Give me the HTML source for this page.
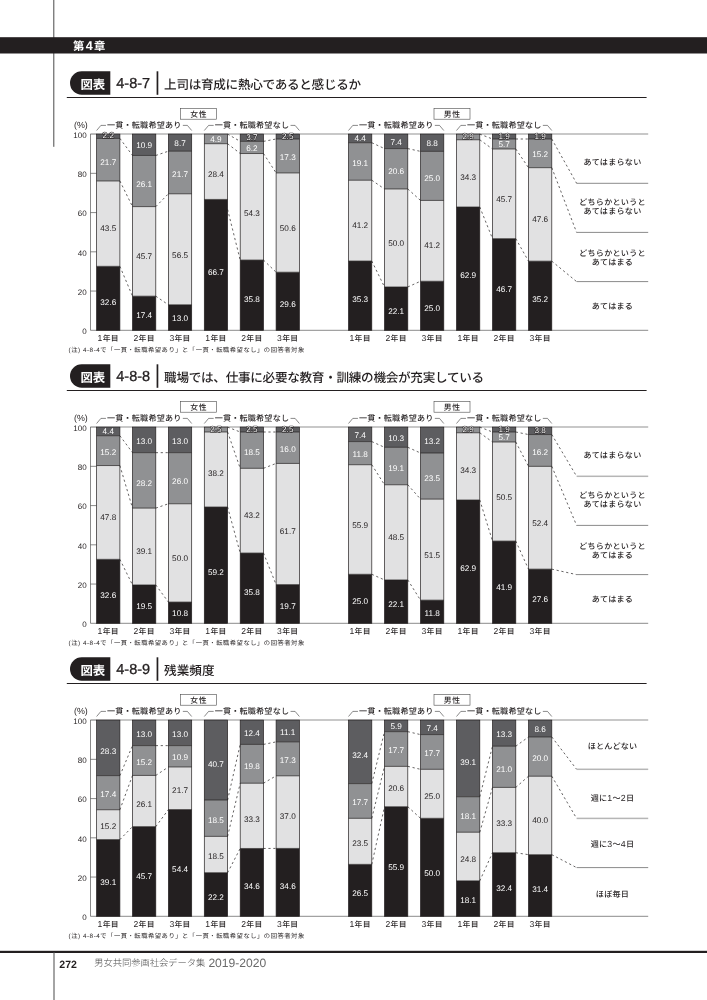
<!DOCTYPE html>
<html lang="ja">
<head>
<meta charset="utf-8">
<title>第4章 図表 4-8-7 / 4-8-8 / 4-8-9</title>
<style>
html,body{margin:0;padding:0;background:#fff;}
body{width:707px;height:1000px;overflow:hidden;position:relative;font-family:"Liberation Sans", "Noto Sans CJK JP", sans-serif;}
svg{position:absolute;left:0;top:0;display:block;}
text{font-family:"Liberation Sans", "Noto Sans CJK JP", sans-serif;fill:#231f20;text-rendering:geometricPrecision;}
.chap{font-size:11.3px;font-weight:700;fill:#fff;}
.chn{font-size:12.6px;}
.badge{font-size:12.4px;font-weight:700;fill:#fff;text-anchor:middle;}
.num{font-size:14.5px;stroke:#231f20;stroke-width:0.3px;}
.ttl{font-size:12.6px;font-weight:500;}
.gen{font-size:7.8px;font-weight:500;text-anchor:middle;letter-spacing:0.6px;}
.grp{font-size:8.1px;font-weight:500;}
.ax{font-size:8px;text-anchor:end;}
.pct{font-size:8.9px;text-anchor:end;}
.xl{font-size:7.8px;font-weight:500;text-anchor:middle;letter-spacing:0.3px;}
.xd{font-size:8.6px;font-weight:400;}
.ld{font-size:8.8px;}
.leg{font-size:8.1px;font-weight:500;text-anchor:middle;letter-spacing:0.25px;}
.vw{font-size:8.2px;text-anchor:middle;fill:#fff;}
.vd{font-size:8.2px;text-anchor:middle;}
.vo{font-size:8.2px;text-anchor:middle;fill:#fff;stroke:#231f20;stroke-width:1.1px;paint-order:stroke fill;stroke-linejoin:round;}
.note{font-size:6.3px;}
.thin{fill:none;stroke:#3a3a3a;stroke-width:0.6;}
.ol{fill:none;stroke:#231f20;stroke-width:0.7;}
.brk{fill:none;stroke:#3a3a3a;stroke-width:0.6;}
.dash{fill:none;stroke:#231f20;stroke-width:0.7;stroke-dasharray:2.2 2.7;}
.pg{font-size:10.6px;font-weight:700;}
.bk{font-size:9.3px;font-weight:300;fill:#4a4a4a;}
.bk2{font-size:12.1px;font-weight:400;fill:#6a6a6a;}
</style>
</head>
<body>
<svg width="707" height="1000" viewBox="0 0 707 1000">
<rect x="0" y="0" width="707" height="1000" fill="#fff"/>
<rect x="53.3" y="0" width="1" height="146.8" fill="#4a4a4a"/>
<rect x="0" y="37.2" width="707" height="16.3" fill="#231f20"/>
<text class="chap" x="73" y="49.7" textLength="32.4" lengthAdjust="spacing">第<tspan class="chn">4</tspan>章</text>
<g class="chart">
<path d="M81.75 71.3H110.3V94.8H81.75A11.75 11.75 0 0 1 81.75 71.3Z" fill="#231f20"/>
<text class="badge" x="92.8" y="88.9">図表</text>
<text class="num" x="116.3" y="88.35">4-8-7</text>
<rect x="156.6" y="71.3" width="1.7" height="23.5" fill="#231f20"/>
<text class="ttl" x="164.1" y="88.8" textLength="197" lengthAdjust="spacing">上司は育成に熱心であると感じるか</text>
<rect x="66.8" y="97" width="579.8" height="1" fill="#231f20"/>
<rect x="180.5" y="108.4" width="36" height="10.8" fill="#fff" stroke="#4a4a4a" stroke-width="0.6"/>
<text class="gen" x="198.7" y="117.2">女性</text>
<rect x="434" y="108.4" width="36" height="10.8" fill="#fff" stroke="#4a4a4a" stroke-width="0.6"/>
<text class="gen" x="452.2" y="117.2">男性</text>
<path class="brk" d="M96.6 130.5L100.9 125.4H105.95"/>
<path class="brk" d="M191.7 130.5L187.4 125.4H182.85"/>
<text class="grp" x="106.95" y="128.4" textLength="74.4" lengthAdjust="spacing">一貫・転職希望あり</text>
<path class="brk" d="M204.3 130.5L208.6 125.4H213.65"/>
<path class="brk" d="M299.4 130.5L295.1 125.4H290.55"/>
<text class="grp" x="214.65" y="128.4" textLength="74.4" lengthAdjust="spacing">一貫・転職希望なし</text>
<path class="brk" d="M348.5 130.5L352.8 125.4H357.95"/>
<path class="brk" d="M443.8 130.5L439.5 125.4H434.85"/>
<text class="grp" x="358.95" y="128.4" textLength="74.4" lengthAdjust="spacing">一貫・転職希望あり</text>
<path class="brk" d="M456.5 130.5L460.8 125.4H465.95"/>
<path class="brk" d="M551.8 130.5L547.5 125.4H542.85"/>
<text class="grp" x="466.95" y="128.4" textLength="74.4" lengthAdjust="spacing">一貫・転職希望なし</text>
<text class="pct" x="87.8" y="128.3">(%)</text>
<text class="ax" x="86.6" y="137.8">100</text>
<path class="thin" d="M90.5 134.1H96.6"/>
<text class="ax" x="86.6" y="177.04">80</text>
<path class="thin" d="M90.5 173.34H96.6"/>
<text class="ax" x="86.6" y="216.28">60</text>
<path class="thin" d="M90.5 212.58H96.6"/>
<text class="ax" x="86.6" y="255.52">40</text>
<path class="thin" d="M90.5 251.82H96.6"/>
<text class="ax" x="86.6" y="294.76">20</text>
<path class="thin" d="M90.5 291.06H96.6"/>
<text class="ax" x="86.6" y="333.6">0</text>
<rect x="90.5" y="133.25" width="557.7" height="1.5" fill="#b6b6b6"/>
<path class="thin" d="M90.5 134.1V330.3H648.2"/>
<rect x="96.6" y="266.34" width="23.3" height="63.96" fill="#231f20"/>
<rect x="96.6" y="180.99" width="23.3" height="85.35" fill="#e1e1e2"/>
<rect x="96.6" y="138.42" width="23.3" height="42.58" fill="#909193"/>
<rect x="96.6" y="134.1" width="23.3" height="4.32" fill="#5d5d60"/>
<rect class="ol" x="96.6" y="134.1" width="23.3" height="196.2"/>
<path class="ol" d="M96.6 266.34H119.9"/>
<path class="ol" d="M96.6 180.99H119.9"/>
<path class="ol" d="M96.6 138.42H119.9"/>
<rect x="132.5" y="296.2" width="23.3" height="34.1" fill="#231f20"/>
<rect x="132.5" y="206.62" width="23.3" height="89.57" fill="#e1e1e2"/>
<rect x="132.5" y="155.46" width="23.3" height="51.16" fill="#909193"/>
<rect x="132.5" y="134.1" width="23.3" height="21.36" fill="#5d5d60"/>
<rect class="ol" x="132.5" y="134.1" width="23.3" height="196.2"/>
<path class="ol" d="M132.5 296.2H155.8"/>
<path class="ol" d="M132.5 206.62H155.8"/>
<path class="ol" d="M132.5 155.46H155.8"/>
<rect x="168.4" y="304.77" width="23.3" height="25.53" fill="#231f20"/>
<rect x="168.4" y="193.8" width="23.3" height="110.96" fill="#e1e1e2"/>
<rect x="168.4" y="151.19" width="23.3" height="42.62" fill="#909193"/>
<rect x="168.4" y="134.1" width="23.3" height="17.09" fill="#5d5d60"/>
<rect class="ol" x="168.4" y="134.1" width="23.3" height="196.2"/>
<path class="ol" d="M168.4 304.77H191.7"/>
<path class="ol" d="M168.4 193.8H191.7"/>
<path class="ol" d="M168.4 151.19H191.7"/>
<rect x="204.3" y="199.43" width="23.3" height="130.87" fill="#231f20"/>
<rect x="204.3" y="143.71" width="23.3" height="55.72" fill="#e1e1e2"/>
<rect x="204.3" y="134.1" width="23.3" height="9.61" fill="#909193"/>
<rect class="ol" x="204.3" y="134.1" width="23.3" height="196.2"/>
<path class="ol" d="M204.3 199.43H227.6"/>
<path class="ol" d="M204.3 143.71H227.6"/>
<rect x="240.2" y="260.06" width="23.3" height="70.24" fill="#231f20"/>
<rect x="240.2" y="153.52" width="23.3" height="106.54" fill="#e1e1e2"/>
<rect x="240.2" y="141.36" width="23.3" height="12.16" fill="#909193"/>
<rect x="240.2" y="134.1" width="23.3" height="7.26" fill="#5d5d60"/>
<rect class="ol" x="240.2" y="134.1" width="23.3" height="196.2"/>
<path class="ol" d="M240.2 260.06H263.5"/>
<path class="ol" d="M240.2 153.52H263.5"/>
<path class="ol" d="M240.2 141.36H263.5"/>
<rect x="276.1" y="272.22" width="23.3" height="58.08" fill="#231f20"/>
<rect x="276.1" y="172.95" width="23.3" height="99.28" fill="#e1e1e2"/>
<rect x="276.1" y="139" width="23.3" height="33.94" fill="#909193"/>
<rect x="276.1" y="134.1" width="23.3" height="4.91" fill="#5d5d60"/>
<rect class="ol" x="276.1" y="134.1" width="23.3" height="196.2"/>
<path class="ol" d="M276.1 272.22H299.4"/>
<path class="ol" d="M276.1 172.95H299.4"/>
<path class="ol" d="M276.1 139H299.4"/>
<rect x="348.5" y="261.04" width="23.3" height="69.26" fill="#231f20"/>
<rect x="348.5" y="180.21" width="23.3" height="80.83" fill="#e1e1e2"/>
<rect x="348.5" y="142.73" width="23.3" height="37.47" fill="#909193"/>
<rect x="348.5" y="134.1" width="23.3" height="8.63" fill="#5d5d60"/>
<rect class="ol" x="348.5" y="134.1" width="23.3" height="196.2"/>
<path class="ol" d="M348.5 261.04H371.8"/>
<path class="ol" d="M348.5 180.21H371.8"/>
<path class="ol" d="M348.5 142.73H371.8"/>
<rect x="384.5" y="286.98" width="23.3" height="43.32" fill="#231f20"/>
<rect x="384.5" y="188.98" width="23.3" height="98" fill="#e1e1e2"/>
<rect x="384.5" y="148.6" width="23.3" height="40.38" fill="#909193"/>
<rect x="384.5" y="134.1" width="23.3" height="14.5" fill="#5d5d60"/>
<rect class="ol" x="384.5" y="134.1" width="23.3" height="196.2"/>
<path class="ol" d="M384.5 286.98H407.8"/>
<path class="ol" d="M384.5 188.98H407.8"/>
<path class="ol" d="M384.5 148.6H407.8"/>
<rect x="420.5" y="281.25" width="23.3" height="49.05" fill="#231f20"/>
<rect x="420.5" y="200.42" width="23.3" height="80.83" fill="#e1e1e2"/>
<rect x="420.5" y="151.37" width="23.3" height="49.05" fill="#909193"/>
<rect x="420.5" y="134.1" width="23.3" height="17.27" fill="#5d5d60"/>
<rect class="ol" x="420.5" y="134.1" width="23.3" height="196.2"/>
<path class="ol" d="M420.5 281.25H443.8"/>
<path class="ol" d="M420.5 200.42H443.8"/>
<path class="ol" d="M420.5 151.37H443.8"/>
<rect x="456.5" y="207.01" width="23.3" height="123.29" fill="#231f20"/>
<rect x="456.5" y="139.78" width="23.3" height="67.23" fill="#e1e1e2"/>
<rect x="456.5" y="134.1" width="23.3" height="5.68" fill="#909193"/>
<rect class="ol" x="456.5" y="134.1" width="23.3" height="196.2"/>
<path class="ol" d="M456.5 207.01H479.8"/>
<path class="ol" d="M456.5 139.78H479.8"/>
<rect x="492.5" y="238.67" width="23.3" height="91.63" fill="#231f20"/>
<rect x="492.5" y="149.01" width="23.3" height="89.66" fill="#e1e1e2"/>
<rect x="492.5" y="139" width="23.3" height="10.01" fill="#909193"/>
<rect x="492.5" y="134.1" width="23.3" height="4.91" fill="#5d5d60"/>
<rect class="ol" x="492.5" y="134.1" width="23.3" height="196.2"/>
<path class="ol" d="M492.5 238.67H515.8"/>
<path class="ol" d="M492.5 149.01H515.8"/>
<path class="ol" d="M492.5 139H515.8"/>
<rect x="528.5" y="261.17" width="23.3" height="69.13" fill="#231f20"/>
<rect x="528.5" y="167.68" width="23.3" height="93.48" fill="#e1e1e2"/>
<rect x="528.5" y="139.01" width="23.3" height="28.67" fill="#909193"/>
<rect x="528.5" y="134.1" width="23.3" height="4.91" fill="#5d5d60"/>
<rect class="ol" x="528.5" y="134.1" width="23.3" height="196.2"/>
<path class="ol" d="M528.5 261.17H551.8"/>
<path class="ol" d="M528.5 167.68H551.8"/>
<path class="ol" d="M528.5 139.01H551.8"/>
<path class="dash" d="M119.9 266.34L132.5 296.2"/>
<path class="dash" d="M119.9 180.99L132.5 206.62"/>
<path class="dash" d="M119.9 138.42L132.5 155.46"/>
<path class="dash" d="M155.8 296.2L168.4 304.77"/>
<path class="dash" d="M155.8 206.62L168.4 193.8"/>
<path class="dash" d="M155.8 155.46L168.4 151.19"/>
<path class="dash" d="M227.6 209.43L240.2 260.06"/>
<path class="dash" d="M227.6 143.71L240.2 153.52"/>
<path class="dash" d="M227.6 134.1L240.2 141.36"/>
<path class="dash" d="M263.5 260.06L276.1 272.22"/>
<path class="dash" d="M263.5 153.52L276.1 172.95"/>
<path class="dash" d="M263.5 141.36L276.1 139"/>
<path class="dash" d="M371.8 261.04L384.5 286.98"/>
<path class="dash" d="M371.8 180.21L384.5 188.98"/>
<path class="dash" d="M371.8 142.73L384.5 148.6"/>
<path class="dash" d="M407.8 286.98L420.5 281.25"/>
<path class="dash" d="M407.8 188.98L420.5 200.42"/>
<path class="dash" d="M407.8 148.6L420.5 151.37"/>
<path class="dash" d="M479.8 207.01L492.5 238.67"/>
<path class="dash" d="M479.8 139.78L492.5 149.01"/>
<path class="dash" d="M479.8 134.1L492.5 139"/>
<path class="dash" d="M515.8 238.67L528.5 261.17"/>
<path class="dash" d="M515.8 149.01L528.5 167.68"/>
<path class="dash" d="M515.8 139L528.5 139.01"/>
<path class="dash" d="M551.8 139.01L576.6 183.3"/>
<path class="thin" d="M576.6 183.3H648.2"/>
<path class="dash" d="M551.8 167.68L576.6 232.4"/>
<path class="thin" d="M576.6 232.4H648.2"/>
<path class="dash" d="M551.8 261.17L576.6 281.6"/>
<path class="thin" d="M576.6 281.6H648.2"/>
<text class="leg" x="612.5" y="164.6">あてはまらない</text>
<text class="leg" x="612.5" y="205.4">どちらかというと</text>
<text class="leg" x="612.5" y="214">あてはまらない</text>
<text class="leg" x="612.5" y="256.4">どちらかというと</text>
<text class="leg" x="612.5" y="265.4">あてはまる</text>
<text class="leg" x="612.5" y="308.5">あてはまる</text>
<text class="vw" x="108.25" y="304.56">32.6</text>
<text class="vd" x="108.25" y="231.19">43.5</text>
<text class="vw" x="108.25" y="164.66">21.7</text>
<text class="vo" x="108.25" y="138.46">2.2</text>
<text class="vw" x="144.15" y="317.69">17.4</text>
<text class="vd" x="144.15" y="259.18">45.7</text>
<text class="vw" x="144.15" y="186.51">26.1</text>
<text class="vw" x="144.15" y="148.46">10.9</text>
<text class="vw" x="180.05" y="321.47">13.0</text>
<text class="vd" x="180.05" y="258.34">56.5</text>
<text class="vw" x="180.05" y="177.45">21.7</text>
<text class="vw" x="180.05" y="146.07">8.7</text>
<text class="vw" x="215.95" y="275.12">66.7</text>
<text class="vd" x="215.95" y="177.32">28.4</text>
<text class="vw" x="215.95" y="141.91">4.9</text>
<text class="vw" x="251.85" y="301.79">35.8</text>
<text class="vd" x="251.85" y="215.58">54.3</text>
<text class="vw" x="251.85" y="150.57">6.2</text>
<text class="vo" x="251.85" y="139.93">3.7</text>
<text class="vw" x="287.75" y="307.15">29.6</text>
<text class="vd" x="287.75" y="230.94">50.6</text>
<text class="vw" x="287.75" y="160.41">17.3</text>
<text class="vo" x="287.75" y="138.75">2.5</text>
<text class="vw" x="360.15" y="302.23">35.3</text>
<text class="vd" x="360.15" y="227.87">41.2</text>
<text class="vw" x="360.15" y="166.12">19.1</text>
<text class="vw" x="360.15" y="141.42">4.4</text>
<text class="vw" x="396.15" y="313.64">22.1</text>
<text class="vd" x="396.15" y="246.26">50.0</text>
<text class="vw" x="396.15" y="173.62">20.6</text>
<text class="vw" x="396.15" y="144.62">7.4</text>
<text class="vw" x="432.15" y="311.12">25.0</text>
<text class="vd" x="432.15" y="248.08">41.2</text>
<text class="vw" x="432.15" y="181.23">25.0</text>
<text class="vw" x="432.15" y="146.17">8.8</text>
<text class="vw" x="468.15" y="278.45">62.9</text>
<text class="vd" x="468.15" y="179.83">34.3</text>
<text class="vo" x="468.15" y="139.14">2.9</text>
<text class="vw" x="504.15" y="292.38">46.7</text>
<text class="vd" x="504.15" y="201.62">45.7</text>
<text class="vw" x="504.15" y="147.01">5.7</text>
<text class="vo" x="504.15" y="138.7">1.9</text>
<text class="vw" x="540.15" y="302.28">35.2</text>
<text class="vd" x="540.15" y="222.44">47.6</text>
<text class="vw" x="540.15" y="157.47">15.2</text>
<text class="vo" x="540.15" y="138.7">1.9</text>
<text class="xl" x="108.25" y="340.5"><tspan class="xd">1</tspan>年目</text>
<text class="xl" x="144.15" y="340.5"><tspan class="xd">2</tspan>年目</text>
<text class="xl" x="180.05" y="340.5"><tspan class="xd">3</tspan>年目</text>
<text class="xl" x="215.95" y="340.5"><tspan class="xd">1</tspan>年目</text>
<text class="xl" x="251.85" y="340.5"><tspan class="xd">2</tspan>年目</text>
<text class="xl" x="287.75" y="340.5"><tspan class="xd">3</tspan>年目</text>
<text class="xl" x="360.15" y="340.5"><tspan class="xd">1</tspan>年目</text>
<text class="xl" x="396.15" y="340.5"><tspan class="xd">2</tspan>年目</text>
<text class="xl" x="432.15" y="340.5"><tspan class="xd">3</tspan>年目</text>
<text class="xl" x="468.15" y="340.5"><tspan class="xd">1</tspan>年目</text>
<text class="xl" x="504.15" y="340.5"><tspan class="xd">2</tspan>年目</text>
<text class="xl" x="540.15" y="340.5"><tspan class="xd">3</tspan>年目</text>
<text class="note" x="68.6" y="351.9" textLength="235.6" lengthAdjust="spacing">(注) 4-8-4で「一貫・転職希望あり」と「一貫・転職希望なし」の回答者対象</text>
</g>
<g class="chart">
<path d="M81.75 364.3H110.3V387.8H81.75A11.75 11.75 0 0 1 81.75 364.3Z" fill="#231f20"/>
<text class="badge" x="92.8" y="381.9">図表</text>
<text class="num" x="116.3" y="381.35">4-8-8</text>
<rect x="156.6" y="364.3" width="1.7" height="23.5" fill="#231f20"/>
<text class="ttl" x="164.1" y="381.8" textLength="320" lengthAdjust="spacing">職場では、仕事に必要な教育・訓練の機会が充実している</text>
<rect x="66.8" y="390" width="579.8" height="1" fill="#231f20"/>
<rect x="180.5" y="401.4" width="36" height="10.8" fill="#fff" stroke="#4a4a4a" stroke-width="0.6"/>
<text class="gen" x="198.7" y="410.2">女性</text>
<rect x="434" y="401.4" width="36" height="10.8" fill="#fff" stroke="#4a4a4a" stroke-width="0.6"/>
<text class="gen" x="452.2" y="410.2">男性</text>
<path class="brk" d="M96.6 423.5L100.9 418.4H105.95"/>
<path class="brk" d="M191.7 423.5L187.4 418.4H182.85"/>
<text class="grp" x="106.95" y="421.4" textLength="74.4" lengthAdjust="spacing">一貫・転職希望あり</text>
<path class="brk" d="M204.3 423.5L208.6 418.4H213.65"/>
<path class="brk" d="M299.4 423.5L295.1 418.4H290.55"/>
<text class="grp" x="214.65" y="421.4" textLength="74.4" lengthAdjust="spacing">一貫・転職希望なし</text>
<path class="brk" d="M348.5 423.5L352.8 418.4H357.95"/>
<path class="brk" d="M443.8 423.5L439.5 418.4H434.85"/>
<text class="grp" x="358.95" y="421.4" textLength="74.4" lengthAdjust="spacing">一貫・転職希望あり</text>
<path class="brk" d="M456.5 423.5L460.8 418.4H465.95"/>
<path class="brk" d="M551.8 423.5L547.5 418.4H542.85"/>
<text class="grp" x="466.95" y="421.4" textLength="74.4" lengthAdjust="spacing">一貫・転職希望なし</text>
<text class="pct" x="87.8" y="421.3">(%)</text>
<text class="ax" x="86.6" y="430.8">100</text>
<path class="thin" d="M90.5 427.1H96.6"/>
<text class="ax" x="86.6" y="470.04">80</text>
<path class="thin" d="M90.5 466.34H96.6"/>
<text class="ax" x="86.6" y="509.28">60</text>
<path class="thin" d="M90.5 505.58H96.6"/>
<text class="ax" x="86.6" y="548.52">40</text>
<path class="thin" d="M90.5 544.82H96.6"/>
<text class="ax" x="86.6" y="587.76">20</text>
<path class="thin" d="M90.5 584.06H96.6"/>
<text class="ax" x="86.6" y="626.6">0</text>
<rect x="90.5" y="426.25" width="557.7" height="1.5" fill="#b6b6b6"/>
<path class="thin" d="M90.5 427.1V623.3H648.2"/>
<rect x="96.6" y="559.34" width="23.3" height="63.96" fill="#231f20"/>
<rect x="96.6" y="465.56" width="23.3" height="93.78" fill="#e1e1e2"/>
<rect x="96.6" y="435.73" width="23.3" height="29.82" fill="#909193"/>
<rect x="96.6" y="427.1" width="23.3" height="8.63" fill="#5d5d60"/>
<rect class="ol" x="96.6" y="427.1" width="23.3" height="196.2"/>
<path class="ol" d="M96.6 559.34H119.9"/>
<path class="ol" d="M96.6 465.56H119.9"/>
<path class="ol" d="M96.6 435.73H119.9"/>
<rect x="132.5" y="584.96" width="23.3" height="38.34" fill="#231f20"/>
<rect x="132.5" y="508.1" width="23.3" height="76.87" fill="#e1e1e2"/>
<rect x="132.5" y="452.66" width="23.3" height="55.44" fill="#909193"/>
<rect x="132.5" y="427.1" width="23.3" height="25.56" fill="#5d5d60"/>
<rect class="ol" x="132.5" y="427.1" width="23.3" height="196.2"/>
<path class="ol" d="M132.5 584.96H155.8"/>
<path class="ol" d="M132.5 508.1H155.8"/>
<path class="ol" d="M132.5 452.66H155.8"/>
<rect x="168.4" y="602.07" width="23.3" height="21.23" fill="#231f20"/>
<rect x="168.4" y="503.77" width="23.3" height="98.3" fill="#e1e1e2"/>
<rect x="168.4" y="452.66" width="23.3" height="51.11" fill="#909193"/>
<rect x="168.4" y="427.1" width="23.3" height="25.56" fill="#5d5d60"/>
<rect class="ol" x="168.4" y="427.1" width="23.3" height="196.2"/>
<path class="ol" d="M168.4 602.07H191.7"/>
<path class="ol" d="M168.4 503.77H191.7"/>
<path class="ol" d="M168.4 452.66H191.7"/>
<rect x="204.3" y="507.03" width="23.3" height="116.27" fill="#231f20"/>
<rect x="204.3" y="432.01" width="23.3" height="75.02" fill="#e1e1e2"/>
<rect x="204.3" y="427.1" width="23.3" height="4.91" fill="#909193"/>
<rect class="ol" x="204.3" y="427.1" width="23.3" height="196.2"/>
<path class="ol" d="M204.3 507.03H227.6"/>
<path class="ol" d="M204.3 432.01H227.6"/>
<rect x="240.2" y="553.06" width="23.3" height="70.24" fill="#231f20"/>
<rect x="240.2" y="468.3" width="23.3" height="84.76" fill="#e1e1e2"/>
<rect x="240.2" y="432" width="23.3" height="36.3" fill="#909193"/>
<rect x="240.2" y="427.1" width="23.3" height="4.91" fill="#5d5d60"/>
<rect class="ol" x="240.2" y="427.1" width="23.3" height="196.2"/>
<path class="ol" d="M240.2 553.06H263.5"/>
<path class="ol" d="M240.2 468.3H263.5"/>
<path class="ol" d="M240.2 432H263.5"/>
<rect x="276.1" y="584.61" width="23.3" height="38.69" fill="#231f20"/>
<rect x="276.1" y="463.43" width="23.3" height="121.18" fill="#e1e1e2"/>
<rect x="276.1" y="432.01" width="23.3" height="31.42" fill="#909193"/>
<rect x="276.1" y="427.1" width="23.3" height="4.91" fill="#5d5d60"/>
<rect class="ol" x="276.1" y="427.1" width="23.3" height="196.2"/>
<path class="ol" d="M276.1 584.61H299.4"/>
<path class="ol" d="M276.1 463.43H299.4"/>
<path class="ol" d="M276.1 432.01H299.4"/>
<rect x="348.5" y="574.3" width="23.3" height="49" fill="#231f20"/>
<rect x="348.5" y="464.73" width="23.3" height="109.57" fill="#e1e1e2"/>
<rect x="348.5" y="441.6" width="23.3" height="23.13" fill="#909193"/>
<rect x="348.5" y="427.1" width="23.3" height="14.5" fill="#5d5d60"/>
<rect class="ol" x="348.5" y="427.1" width="23.3" height="196.2"/>
<path class="ol" d="M348.5 574.3H371.8"/>
<path class="ol" d="M348.5 464.73H371.8"/>
<path class="ol" d="M348.5 441.6H371.8"/>
<rect x="384.5" y="579.94" width="23.3" height="43.36" fill="#231f20"/>
<rect x="384.5" y="484.78" width="23.3" height="95.16" fill="#e1e1e2"/>
<rect x="384.5" y="447.31" width="23.3" height="37.47" fill="#909193"/>
<rect x="384.5" y="427.1" width="23.3" height="20.21" fill="#5d5d60"/>
<rect class="ol" x="384.5" y="427.1" width="23.3" height="196.2"/>
<path class="ol" d="M384.5 579.94H407.8"/>
<path class="ol" d="M384.5 484.78H407.8"/>
<path class="ol" d="M384.5 447.31H407.8"/>
<rect x="420.5" y="600.15" width="23.3" height="23.15" fill="#231f20"/>
<rect x="420.5" y="499.11" width="23.3" height="101.04" fill="#e1e1e2"/>
<rect x="420.5" y="453" width="23.3" height="46.11" fill="#909193"/>
<rect x="420.5" y="427.1" width="23.3" height="25.9" fill="#5d5d60"/>
<rect class="ol" x="420.5" y="427.1" width="23.3" height="196.2"/>
<path class="ol" d="M420.5 600.15H443.8"/>
<path class="ol" d="M420.5 499.11H443.8"/>
<path class="ol" d="M420.5 453H443.8"/>
<rect x="456.5" y="500.01" width="23.3" height="123.29" fill="#231f20"/>
<rect x="456.5" y="432.78" width="23.3" height="67.23" fill="#e1e1e2"/>
<rect x="456.5" y="427.1" width="23.3" height="5.68" fill="#909193"/>
<rect class="ol" x="456.5" y="427.1" width="23.3" height="196.2"/>
<path class="ol" d="M456.5 500.01H479.8"/>
<path class="ol" d="M456.5 432.78H479.8"/>
<rect x="492.5" y="541.09" width="23.3" height="82.21" fill="#231f20"/>
<rect x="492.5" y="442.01" width="23.3" height="99.08" fill="#e1e1e2"/>
<rect x="492.5" y="432" width="23.3" height="10.01" fill="#909193"/>
<rect x="492.5" y="427.1" width="23.3" height="4.91" fill="#5d5d60"/>
<rect class="ol" x="492.5" y="427.1" width="23.3" height="196.2"/>
<path class="ol" d="M492.5 541.09H515.8"/>
<path class="ol" d="M492.5 442.01H515.8"/>
<path class="ol" d="M492.5 432H515.8"/>
<rect x="528.5" y="569.15" width="23.3" height="54.15" fill="#231f20"/>
<rect x="528.5" y="466.34" width="23.3" height="102.81" fill="#e1e1e2"/>
<rect x="528.5" y="434.56" width="23.3" height="31.78" fill="#909193"/>
<rect x="528.5" y="427.1" width="23.3" height="7.46" fill="#5d5d60"/>
<rect class="ol" x="528.5" y="427.1" width="23.3" height="196.2"/>
<path class="ol" d="M528.5 569.15H551.8"/>
<path class="ol" d="M528.5 466.34H551.8"/>
<path class="ol" d="M528.5 434.56H551.8"/>
<path class="dash" d="M119.9 559.34L132.5 584.96"/>
<path class="dash" d="M119.9 465.56L132.5 508.1"/>
<path class="dash" d="M119.9 435.73L132.5 452.66"/>
<path class="dash" d="M155.8 584.96L168.4 602.07"/>
<path class="dash" d="M155.8 508.1L168.4 503.77"/>
<path class="dash" d="M155.8 452.66L168.4 452.66"/>
<path class="dash" d="M227.6 507.03L240.2 553.06"/>
<path class="dash" d="M227.6 432.01L240.2 468.3"/>
<path class="dash" d="M227.6 427.1L240.2 432"/>
<path class="dash" d="M263.5 553.06L276.1 584.61"/>
<path class="dash" d="M263.5 468.3L276.1 463.43"/>
<path class="dash" d="M263.5 432L276.1 432.01"/>
<path class="dash" d="M371.8 574.3L384.5 579.94"/>
<path class="dash" d="M371.8 464.73L384.5 484.78"/>
<path class="dash" d="M371.8 441.6L384.5 447.31"/>
<path class="dash" d="M407.8 579.94L420.5 600.15"/>
<path class="dash" d="M407.8 484.78L420.5 499.11"/>
<path class="dash" d="M407.8 447.31L420.5 453"/>
<path class="dash" d="M479.8 500.01L492.5 541.09"/>
<path class="dash" d="M479.8 432.78L492.5 442.01"/>
<path class="dash" d="M479.8 427.1L492.5 432"/>
<path class="dash" d="M515.8 541.09L528.5 569.15"/>
<path class="dash" d="M515.8 442.01L528.5 466.34"/>
<path class="dash" d="M515.8 432L528.5 434.56"/>
<path class="dash" d="M551.8 434.56L576.6 476.3"/>
<rect x="576.6" y="475.55" width="71.6" height="1.5" fill="#b6b6b6"/>
<path class="dash" d="M551.8 466.34L576.6 525.4"/>
<path class="thin" d="M576.6 525.4H648.2"/>
<path class="dash" d="M551.8 569.15L576.6 574.6"/>
<path class="thin" d="M576.6 574.6H648.2"/>
<text class="leg" x="612.5" y="457.5">あてはまらない</text>
<text class="leg" x="612.5" y="498">どちらかというと</text>
<text class="leg" x="612.5" y="507">あてはまらない</text>
<text class="leg" x="612.5" y="549.3">どちらかというと</text>
<text class="leg" x="612.5" y="558.3">あてはまる</text>
<text class="leg" x="612.5" y="601.5">あてはまる</text>
<text class="vw" x="108.25" y="597.56">32.6</text>
<text class="vd" x="108.25" y="520.47">47.8</text>
<text class="vw" x="108.25" y="454.83">15.2</text>
<text class="vw" x="108.25" y="434.42">4.4</text>
<text class="vw" x="144.15" y="608.83">19.5</text>
<text class="vd" x="144.15" y="553.54">39.1</text>
<text class="vw" x="144.15" y="486.1">28.2</text>
<text class="vw" x="144.15" y="443.81">13.0</text>
<text class="vw" x="180.05" y="616.36">10.8</text>
<text class="vd" x="180.05" y="561.22">50.0</text>
<text class="vw" x="180.05" y="483.68">26.0</text>
<text class="vw" x="180.05" y="443.81">13.0</text>
<text class="vw" x="215.95" y="574.54">59.2</text>
<text class="vd" x="215.95" y="476.42">38.2</text>
<text class="vo" x="215.95" y="431.75">2.5</text>
<text class="vw" x="251.85" y="594.79">35.8</text>
<text class="vd" x="251.85" y="518.17">43.2</text>
<text class="vw" x="251.85" y="454.73">18.5</text>
<text class="vo" x="251.85" y="431.75">2.5</text>
<text class="vw" x="287.75" y="608.68">19.7</text>
<text class="vd" x="287.75" y="533.69">61.7</text>
<text class="vw" x="287.75" y="452.01">16.0</text>
<text class="vo" x="287.75" y="431.75">2.5</text>
<text class="vw" x="360.15" y="604.14">25.0</text>
<text class="vd" x="360.15" y="528.49">55.9</text>
<text class="vw" x="360.15" y="456.96">11.8</text>
<text class="vw" x="360.15" y="437.62">7.4</text>
<text class="vw" x="396.15" y="606.62">22.1</text>
<text class="vd" x="396.15" y="540.47">48.5</text>
<text class="vw" x="396.15" y="470.69">19.1</text>
<text class="vw" x="396.15" y="440.82">10.3</text>
<text class="vw" x="432.15" y="615.51">11.8</text>
<text class="vd" x="432.15" y="558.09">51.5</text>
<text class="vw" x="432.15" y="481.22">23.5</text>
<text class="vw" x="432.15" y="444">13.2</text>
<text class="vw" x="468.15" y="571.45">62.9</text>
<text class="vd" x="468.15" y="472.83">34.3</text>
<text class="vo" x="468.15" y="432.14">2.9</text>
<text class="vw" x="504.15" y="589.53">41.9</text>
<text class="vd" x="504.15" y="499.9">50.5</text>
<text class="vw" x="504.15" y="440.01">5.7</text>
<text class="vo" x="504.15" y="431.7">1.9</text>
<text class="vw" x="540.15" y="601.87">27.6</text>
<text class="vd" x="540.15" y="526.31">52.4</text>
<text class="vw" x="540.15" y="454.75">16.2</text>
<text class="vo" x="540.15" y="433.03">3.8</text>
<text class="xl" x="108.25" y="633.5"><tspan class="xd">1</tspan>年目</text>
<text class="xl" x="144.15" y="633.5"><tspan class="xd">2</tspan>年目</text>
<text class="xl" x="180.05" y="633.5"><tspan class="xd">3</tspan>年目</text>
<text class="xl" x="215.95" y="633.5"><tspan class="xd">1</tspan>年目</text>
<text class="xl" x="251.85" y="633.5"><tspan class="xd">2</tspan>年目</text>
<text class="xl" x="287.75" y="633.5"><tspan class="xd">3</tspan>年目</text>
<text class="xl" x="360.15" y="633.5"><tspan class="xd">1</tspan>年目</text>
<text class="xl" x="396.15" y="633.5"><tspan class="xd">2</tspan>年目</text>
<text class="xl" x="432.15" y="633.5"><tspan class="xd">3</tspan>年目</text>
<text class="xl" x="468.15" y="633.5"><tspan class="xd">1</tspan>年目</text>
<text class="xl" x="504.15" y="633.5"><tspan class="xd">2</tspan>年目</text>
<text class="xl" x="540.15" y="633.5"><tspan class="xd">3</tspan>年目</text>
<text class="note" x="68.6" y="644.9" textLength="235.6" lengthAdjust="spacing">(注) 4-8-4で「一貫・転職希望あり」と「一貫・転職希望なし」の回答者対象</text>
</g>
<g class="chart">
<path d="M81.75 657.3H110.3V680.8H81.75A11.75 11.75 0 0 1 81.75 657.3Z" fill="#231f20"/>
<text class="badge" x="92.8" y="674.9">図表</text>
<text class="num" x="116.3" y="674.35">4-8-9</text>
<rect x="156.6" y="657.3" width="1.7" height="23.5" fill="#231f20"/>
<text class="ttl" x="164.1" y="674.8" textLength="50.4" lengthAdjust="spacing">残業頻度</text>
<rect x="66.8" y="683" width="579.8" height="1" fill="#231f20"/>
<rect x="180.5" y="694.4" width="36" height="10.8" fill="#fff" stroke="#4a4a4a" stroke-width="0.6"/>
<text class="gen" x="198.7" y="703.2">女性</text>
<rect x="434" y="694.4" width="36" height="10.8" fill="#fff" stroke="#4a4a4a" stroke-width="0.6"/>
<text class="gen" x="452.2" y="703.2">男性</text>
<path class="brk" d="M96.6 716.5L100.9 711.4H105.95"/>
<path class="brk" d="M191.7 716.5L187.4 711.4H182.85"/>
<text class="grp" x="106.95" y="714.4" textLength="74.4" lengthAdjust="spacing">一貫・転職希望あり</text>
<path class="brk" d="M204.3 716.5L208.6 711.4H213.65"/>
<path class="brk" d="M299.4 716.5L295.1 711.4H290.55"/>
<text class="grp" x="214.65" y="714.4" textLength="74.4" lengthAdjust="spacing">一貫・転職希望なし</text>
<path class="brk" d="M348.5 716.5L352.8 711.4H357.95"/>
<path class="brk" d="M443.8 716.5L439.5 711.4H434.85"/>
<text class="grp" x="358.95" y="714.4" textLength="74.4" lengthAdjust="spacing">一貫・転職希望あり</text>
<path class="brk" d="M456.5 716.5L460.8 711.4H465.95"/>
<path class="brk" d="M551.8 716.5L547.5 711.4H542.85"/>
<text class="grp" x="466.95" y="714.4" textLength="74.4" lengthAdjust="spacing">一貫・転職希望なし</text>
<text class="pct" x="87.8" y="714.3">(%)</text>
<text class="ax" x="86.6" y="723.8">100</text>
<path class="thin" d="M90.5 720.1H96.6"/>
<text class="ax" x="86.6" y="763.04">80</text>
<path class="thin" d="M90.5 759.34H96.6"/>
<text class="ax" x="86.6" y="802.28">60</text>
<path class="thin" d="M90.5 798.58H96.6"/>
<text class="ax" x="86.6" y="841.52">40</text>
<path class="thin" d="M90.5 837.82H96.6"/>
<text class="ax" x="86.6" y="880.76">20</text>
<path class="thin" d="M90.5 877.06H96.6"/>
<text class="ax" x="86.6" y="919.6">0</text>
<rect x="90.5" y="719.25" width="557.7" height="1.5" fill="#b6b6b6"/>
<path class="thin" d="M90.5 720.1V916.3H648.2"/>
<rect x="96.6" y="839.59" width="23.3" height="76.71" fill="#231f20"/>
<rect x="96.6" y="809.76" width="23.3" height="29.82" fill="#e1e1e2"/>
<rect x="96.6" y="775.62" width="23.3" height="34.14" fill="#909193"/>
<rect x="96.6" y="720.1" width="23.3" height="55.52" fill="#5d5d60"/>
<rect class="ol" x="96.6" y="720.1" width="23.3" height="196.2"/>
<path class="ol" d="M96.6 839.59H119.9"/>
<path class="ol" d="M96.6 809.76H119.9"/>
<path class="ol" d="M96.6 775.62H119.9"/>
<rect x="132.5" y="826.64" width="23.3" height="89.66" fill="#231f20"/>
<rect x="132.5" y="775.43" width="23.3" height="51.21" fill="#e1e1e2"/>
<rect x="132.5" y="745.61" width="23.3" height="29.82" fill="#909193"/>
<rect x="132.5" y="720.1" width="23.3" height="25.51" fill="#5d5d60"/>
<rect class="ol" x="132.5" y="720.1" width="23.3" height="196.2"/>
<path class="ol" d="M132.5 826.64H155.8"/>
<path class="ol" d="M132.5 775.43H155.8"/>
<path class="ol" d="M132.5 745.61H155.8"/>
<rect x="168.4" y="809.57" width="23.3" height="106.73" fill="#231f20"/>
<rect x="168.4" y="766.99" width="23.3" height="42.58" fill="#e1e1e2"/>
<rect x="168.4" y="745.61" width="23.3" height="21.39" fill="#909193"/>
<rect x="168.4" y="720.1" width="23.3" height="25.51" fill="#5d5d60"/>
<rect class="ol" x="168.4" y="720.1" width="23.3" height="196.2"/>
<path class="ol" d="M168.4 809.57H191.7"/>
<path class="ol" d="M168.4 766.99H191.7"/>
<path class="ol" d="M168.4 745.61H191.7"/>
<rect x="204.3" y="872.7" width="23.3" height="43.6" fill="#231f20"/>
<rect x="204.3" y="836.37" width="23.3" height="36.33" fill="#e1e1e2"/>
<rect x="204.3" y="800.03" width="23.3" height="36.33" fill="#909193"/>
<rect x="204.3" y="720.1" width="23.3" height="79.93" fill="#5d5d60"/>
<rect class="ol" x="204.3" y="720.1" width="23.3" height="196.2"/>
<path class="ol" d="M204.3 872.7H227.6"/>
<path class="ol" d="M204.3 836.37H227.6"/>
<path class="ol" d="M204.3 800.03H227.6"/>
<rect x="240.2" y="848.48" width="23.3" height="67.82" fill="#231f20"/>
<rect x="240.2" y="783.21" width="23.3" height="65.27" fill="#e1e1e2"/>
<rect x="240.2" y="744.4" width="23.3" height="38.81" fill="#909193"/>
<rect x="240.2" y="720.1" width="23.3" height="24.3" fill="#5d5d60"/>
<rect class="ol" x="240.2" y="720.1" width="23.3" height="196.2"/>
<path class="ol" d="M240.2 848.48H263.5"/>
<path class="ol" d="M240.2 783.21H263.5"/>
<path class="ol" d="M240.2 744.4H263.5"/>
<rect x="276.1" y="848.41" width="23.3" height="67.89" fill="#231f20"/>
<rect x="276.1" y="775.82" width="23.3" height="72.59" fill="#e1e1e2"/>
<rect x="276.1" y="741.88" width="23.3" height="33.94" fill="#909193"/>
<rect x="276.1" y="720.1" width="23.3" height="21.78" fill="#5d5d60"/>
<rect class="ol" x="276.1" y="720.1" width="23.3" height="196.2"/>
<path class="ol" d="M276.1 848.41H299.4"/>
<path class="ol" d="M276.1 775.82H299.4"/>
<path class="ol" d="M276.1 741.88H299.4"/>
<rect x="348.5" y="864.36" width="23.3" height="51.94" fill="#231f20"/>
<rect x="348.5" y="818.3" width="23.3" height="46.06" fill="#e1e1e2"/>
<rect x="348.5" y="783.61" width="23.3" height="34.69" fill="#909193"/>
<rect x="348.5" y="720.1" width="23.3" height="63.51" fill="#5d5d60"/>
<rect class="ol" x="348.5" y="720.1" width="23.3" height="196.2"/>
<path class="ol" d="M348.5 864.36H371.8"/>
<path class="ol" d="M348.5 818.3H371.8"/>
<path class="ol" d="M348.5 783.61H371.8"/>
<rect x="384.5" y="806.73" width="23.3" height="109.57" fill="#231f20"/>
<rect x="384.5" y="766.36" width="23.3" height="40.38" fill="#e1e1e2"/>
<rect x="384.5" y="731.66" width="23.3" height="34.69" fill="#909193"/>
<rect x="384.5" y="720.1" width="23.3" height="11.56" fill="#5d5d60"/>
<rect class="ol" x="384.5" y="720.1" width="23.3" height="196.2"/>
<path class="ol" d="M384.5 806.73H407.8"/>
<path class="ol" d="M384.5 766.36H407.8"/>
<path class="ol" d="M384.5 731.66H407.8"/>
<rect x="420.5" y="818.3" width="23.3" height="98" fill="#231f20"/>
<rect x="420.5" y="769.3" width="23.3" height="49" fill="#e1e1e2"/>
<rect x="420.5" y="734.6" width="23.3" height="34.69" fill="#909193"/>
<rect x="420.5" y="720.1" width="23.3" height="14.5" fill="#5d5d60"/>
<rect class="ol" x="420.5" y="720.1" width="23.3" height="196.2"/>
<path class="ol" d="M420.5 818.3H443.8"/>
<path class="ol" d="M420.5 769.3H443.8"/>
<path class="ol" d="M420.5 734.6H443.8"/>
<rect x="456.5" y="880.82" width="23.3" height="35.48" fill="#231f20"/>
<rect x="456.5" y="832.21" width="23.3" height="48.61" fill="#e1e1e2"/>
<rect x="456.5" y="796.74" width="23.3" height="35.48" fill="#909193"/>
<rect x="456.5" y="720.1" width="23.3" height="76.64" fill="#5d5d60"/>
<rect class="ol" x="456.5" y="720.1" width="23.3" height="196.2"/>
<path class="ol" d="M456.5 880.82H479.8"/>
<path class="ol" d="M456.5 832.21H479.8"/>
<path class="ol" d="M456.5 796.74H479.8"/>
<rect x="492.5" y="852.73" width="23.3" height="63.57" fill="#231f20"/>
<rect x="492.5" y="787.4" width="23.3" height="65.33" fill="#e1e1e2"/>
<rect x="492.5" y="746.19" width="23.3" height="41.2" fill="#909193"/>
<rect x="492.5" y="720.1" width="23.3" height="26.09" fill="#5d5d60"/>
<rect class="ol" x="492.5" y="720.1" width="23.3" height="196.2"/>
<path class="ol" d="M492.5 852.73H515.8"/>
<path class="ol" d="M492.5 787.4H515.8"/>
<path class="ol" d="M492.5 746.19H515.8"/>
<rect x="528.5" y="854.69" width="23.3" height="61.61" fill="#231f20"/>
<rect x="528.5" y="776.21" width="23.3" height="78.48" fill="#e1e1e2"/>
<rect x="528.5" y="736.97" width="23.3" height="39.24" fill="#909193"/>
<rect x="528.5" y="720.1" width="23.3" height="16.87" fill="#5d5d60"/>
<rect class="ol" x="528.5" y="720.1" width="23.3" height="196.2"/>
<path class="ol" d="M528.5 854.69H551.8"/>
<path class="ol" d="M528.5 776.21H551.8"/>
<path class="ol" d="M528.5 736.97H551.8"/>
<path class="dash" d="M119.9 839.59L132.5 826.64"/>
<path class="dash" d="M119.9 809.76L132.5 775.43"/>
<path class="dash" d="M119.9 775.62L132.5 745.61"/>
<path class="dash" d="M155.8 826.64L168.4 809.57"/>
<path class="dash" d="M155.8 775.43L168.4 766.99"/>
<path class="dash" d="M155.8 745.61L168.4 745.61"/>
<path class="dash" d="M227.6 872.7L240.2 848.48"/>
<path class="dash" d="M227.6 836.37L240.2 783.21"/>
<path class="dash" d="M227.6 800.03L240.2 744.4"/>
<path class="dash" d="M263.5 848.48L276.1 848.41"/>
<path class="dash" d="M263.5 783.21L276.1 775.82"/>
<path class="dash" d="M263.5 744.4L276.1 741.88"/>
<path class="dash" d="M371.8 864.36L384.5 806.73"/>
<path class="dash" d="M371.8 818.3L384.5 766.36"/>
<path class="dash" d="M371.8 783.61L384.5 731.66"/>
<path class="dash" d="M407.8 806.73L420.5 818.3"/>
<path class="dash" d="M407.8 766.36L420.5 769.3"/>
<path class="dash" d="M407.8 731.66L420.5 734.6"/>
<path class="dash" d="M479.8 880.82L492.5 852.73"/>
<path class="dash" d="M479.8 832.21L492.5 787.4"/>
<path class="dash" d="M479.8 796.74L492.5 746.19"/>
<path class="dash" d="M515.8 852.73L528.5 854.69"/>
<path class="dash" d="M515.8 787.4L528.5 776.21"/>
<path class="dash" d="M515.8 746.19L528.5 736.97"/>
<path class="dash" d="M551.8 736.97L576.6 769.3"/>
<rect x="576.6" y="768.55" width="71.6" height="1.5" fill="#b6b6b6"/>
<path class="dash" d="M551.8 776.21L576.6 818.4"/>
<rect x="576.6" y="817.65" width="71.6" height="1.5" fill="#b6b6b6"/>
<path class="dash" d="M551.8 854.69L576.6 867.6"/>
<path class="thin" d="M576.6 867.6H648.2"/>
<text class="leg" x="612.5" y="748.6">ほとんどない</text>
<text class="leg" x="612.5" y="801">週に<tspan class="ld">1</tspan>〜<tspan class="ld">2</tspan>日</text>
<text class="leg" x="612.5" y="847.1">週に<tspan class="ld">3</tspan>〜<tspan class="ld">4</tspan>日</text>
<text class="leg" x="612.5" y="896.7">ほぼ毎日</text>
<text class="vw" x="108.25" y="884.95">39.1</text>
<text class="vd" x="108.25" y="828.86">15.2</text>
<text class="vw" x="108.25" y="797.14">17.4</text>
<text class="vw" x="108.25" y="753.59">28.3</text>
<text class="vw" x="144.15" y="879.25">45.7</text>
<text class="vd" x="144.15" y="806.5">26.1</text>
<text class="vw" x="144.15" y="764.71">15.2</text>
<text class="vw" x="144.15" y="736.78">13.0</text>
<text class="vw" x="180.05" y="871.74">54.4</text>
<text class="vd" x="180.05" y="793.23">21.7</text>
<text class="vw" x="180.05" y="759.98">10.9</text>
<text class="vw" x="180.05" y="736.78">13.0</text>
<text class="vw" x="215.95" y="899.52">22.2</text>
<text class="vd" x="215.95" y="859.11">18.5</text>
<text class="vw" x="215.95" y="822.78">18.5</text>
<text class="vw" x="215.95" y="767.26">40.7</text>
<text class="vw" x="251.85" y="888.86">34.6</text>
<text class="vd" x="251.85" y="822.16">33.3</text>
<text class="vw" x="251.85" y="768.54">19.8</text>
<text class="vw" x="251.85" y="736.11">12.4</text>
<text class="vw" x="287.75" y="888.83">34.6</text>
<text class="vd" x="287.75" y="818.87">37.0</text>
<text class="vw" x="287.75" y="763.29">17.3</text>
<text class="vw" x="287.75" y="734.7">11.1</text>
<text class="vw" x="360.15" y="895.85">26.5</text>
<text class="vd" x="360.15" y="846.49">23.5</text>
<text class="vw" x="360.15" y="805.43">17.7</text>
<text class="vw" x="360.15" y="758.06">32.4</text>
<text class="vw" x="396.15" y="870.49">55.9</text>
<text class="vd" x="396.15" y="791.37">20.6</text>
<text class="vw" x="396.15" y="753.49">17.7</text>
<text class="vw" x="396.15" y="728.98">5.9</text>
<text class="vw" x="432.15" y="875.58">50.0</text>
<text class="vd" x="432.15" y="799.14">25.0</text>
<text class="vw" x="432.15" y="756.43">17.7</text>
<text class="vw" x="432.15" y="730.62">7.4</text>
<text class="vw" x="468.15" y="903.09">18.1</text>
<text class="vd" x="468.15" y="861.84">24.8</text>
<text class="vw" x="468.15" y="819">18.1</text>
<text class="vw" x="468.15" y="765.42">39.1</text>
<text class="vw" x="504.15" y="890.73">32.4</text>
<text class="vd" x="504.15" y="826.38">33.3</text>
<text class="vw" x="504.15" y="771.67">21.0</text>
<text class="vw" x="504.15" y="737.11">13.3</text>
<text class="vw" x="540.15" y="891.59">31.4</text>
<text class="vd" x="540.15" y="822.56">40.0</text>
<text class="vw" x="540.15" y="761.35">20.0</text>
<text class="vw" x="540.15" y="731.95">8.6</text>
<text class="xl" x="108.25" y="926.5"><tspan class="xd">1</tspan>年目</text>
<text class="xl" x="144.15" y="926.5"><tspan class="xd">2</tspan>年目</text>
<text class="xl" x="180.05" y="926.5"><tspan class="xd">3</tspan>年目</text>
<text class="xl" x="215.95" y="926.5"><tspan class="xd">1</tspan>年目</text>
<text class="xl" x="251.85" y="926.5"><tspan class="xd">2</tspan>年目</text>
<text class="xl" x="287.75" y="926.5"><tspan class="xd">3</tspan>年目</text>
<text class="xl" x="360.15" y="926.5"><tspan class="xd">1</tspan>年目</text>
<text class="xl" x="396.15" y="926.5"><tspan class="xd">2</tspan>年目</text>
<text class="xl" x="432.15" y="926.5"><tspan class="xd">3</tspan>年目</text>
<text class="xl" x="468.15" y="926.5"><tspan class="xd">1</tspan>年目</text>
<text class="xl" x="504.15" y="926.5"><tspan class="xd">2</tspan>年目</text>
<text class="xl" x="540.15" y="926.5"><tspan class="xd">3</tspan>年目</text>
<text class="note" x="68.6" y="937.9" textLength="235.6" lengthAdjust="spacing">(注) 4-8-4で「一貫・転職希望あり」と「一貫・転職希望なし」の回答者対象</text>
</g>
<rect x="0" y="950.8" width="707" height="2.2" fill="#231f20"/>
<rect x="53.5" y="952" width="1" height="48" fill="#4a4a4a"/>
<text class="pg" x="59.3" y="967.5">272</text>
<text class="bk" x="94.2" y="966.4" textLength="111.2" lengthAdjust="spacing">男女共同参画社会データ集</text>
<text class="bk2" x="208.4" y="966.9">2019-2020</text>
</svg>
</body>
</html>
